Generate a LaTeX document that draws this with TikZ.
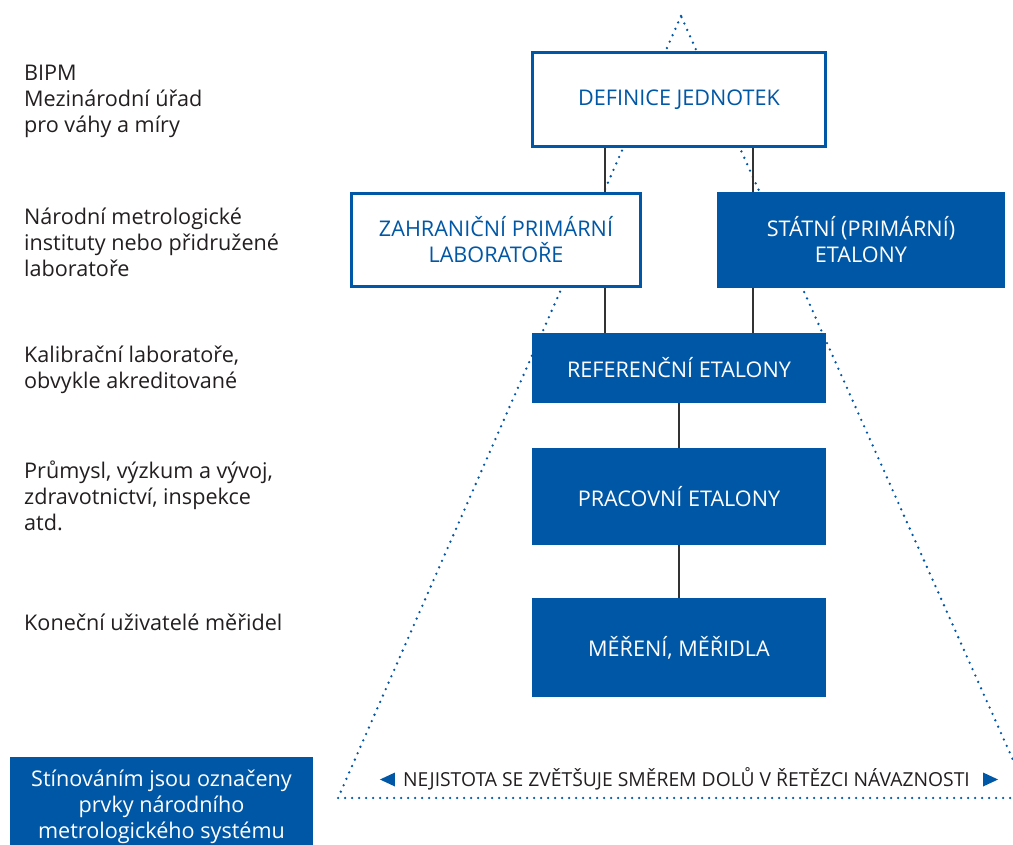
\documentclass[tikz,border=0pt]{standalone}
\usepackage{fontspec}
\setmainfont{Open Sans}
\usetikzlibrary{calc}
\definecolor{mblue}{HTML}{0057A5}
\definecolor{mtext}{HTML}{231F20}
\definecolor{mline}{HTML}{333333}
\tikzset{
  basefont/.style={font=\fontsize{21.6}{26}\selectfont},
  dotline/.style={draw=mblue,line width=2.6pt,line cap=round,dash pattern=on 0pt off 7pt},
  outbox/.style={basefont,draw=mblue,line width=3pt,fill=white,text=mblue,align=center,inner sep=0pt},
  fillbox/.style={basefont,draw=none,fill=mblue,text=white,align=center,inner sep=0pt},
  lefttext/.style={basefont,text=mtext,align=left,anchor=west,inner sep=0pt},
  conn/.style={draw=mline,line width=2pt},
}
\begin{document}
\begin{tikzpicture}[x=1pt,y=-1pt]
\useasboundingbox (0,0) rectangle (1013,845);
\fill[white] (0,0) rectangle (1013,845);
\begin{scope}
\clip (0,0) rectangle (1013,845);
\draw[dotline] (681,16) -- (338,798) -- (1030,798) -- cycle;
\end{scope}

% boxes
\node[outbox,minimum width=293pt,minimum height=94pt] (def) at (679,99.5) {DEFINICE JEDNOTEK};
\node[outbox,minimum width=289pt,minimum height=93pt] (zah) at (496,240) {ZAHRANIČNÍ PRIMÁRNÍ\\LABORATOŘE};
\node[fillbox,minimum width=288pt,minimum height=96pt] (stat) at (861,240) {STÁTNÍ (PRIMÁRNÍ)\\ETALONY};
\node[fillbox,minimum width=294pt,minimum height=70pt] (ref) at (679,368) {REFERENČNÍ ETALONY};
\node[fillbox,minimum width=294pt,minimum height=97pt] (prac) at (679,496.5) {PRACOVNÍ ETALONY};
\node[fillbox,minimum width=294pt,minimum height=99pt] (mer) at (679,647.5) {MĚŘENÍ, MĚŘIDLA};
\node[fillbox,minimum width=303pt,minimum height=100pt] (leg) at (161.5,807) {Stínováním jsou označeny\\prvky národního\\metrologického systému};

% connectors
\coordinate (a1) at ($(def.south west)!.25!(def.south east)$);
\coordinate (a2) at ($(def.south west)!.75!(def.south east)$);
\draw[conn] (a1) -- (a1 |- zah.north);
\draw[conn] (a2) -- (a2 |- stat.north);
\draw[conn] (a1 |- zah.south) -- (a1 |- ref.north);
\draw[conn] (a2 |- stat.south) -- (a2 |- ref.north);
\draw[conn] (ref.south) -- (prac.north);
\draw[conn] (prac.south) -- (mer.north);

% left column
\node[lefttext] (l1) at (24,101) {BIPM\\Mezinárodní úřad\\pro váhy a míry};
\node[lefttext] (l2) at (24,242) {Národní metrologické\\instituty nebo přidružené\\laboratoře};
\node[lefttext] (l3) at (24,369.5) {Kalibrační laboratoře,\\obvykle akreditované};
\node[lefttext] (l4) at (24,496) {Průmysl, výzkum a vývoj,\\zdravotnictví, inspekce\\atd.};
\node[lefttext] (l5) at (24,622) {Koneční uživatelé měřidel};

% bottom note
\node[font=\fontsize{19.3}{22}\selectfont,text=mtext,inner sep=0pt,anchor=base] (note) at (686.5,786.5)
  {NEJISTOTA SE ZVĚTŠUJE SMĚREM DOLŮ V ŘETĚZCI NÁVAZNOSTI};
\fill[mblue] ([xshift=-23pt,yshift=7pt]note.base west) -- ([xshift=-8pt,yshift=14pt]note.base west)
  -- ([xshift=-8pt,yshift=0pt]note.base west) -- cycle;
\fill[mblue] ([xshift=28pt,yshift=7pt]note.base east) -- ([xshift=13pt,yshift=14pt]note.base east)
  -- ([xshift=13pt,yshift=0pt]note.base east) -- cycle;
\end{tikzpicture}
\end{document}
